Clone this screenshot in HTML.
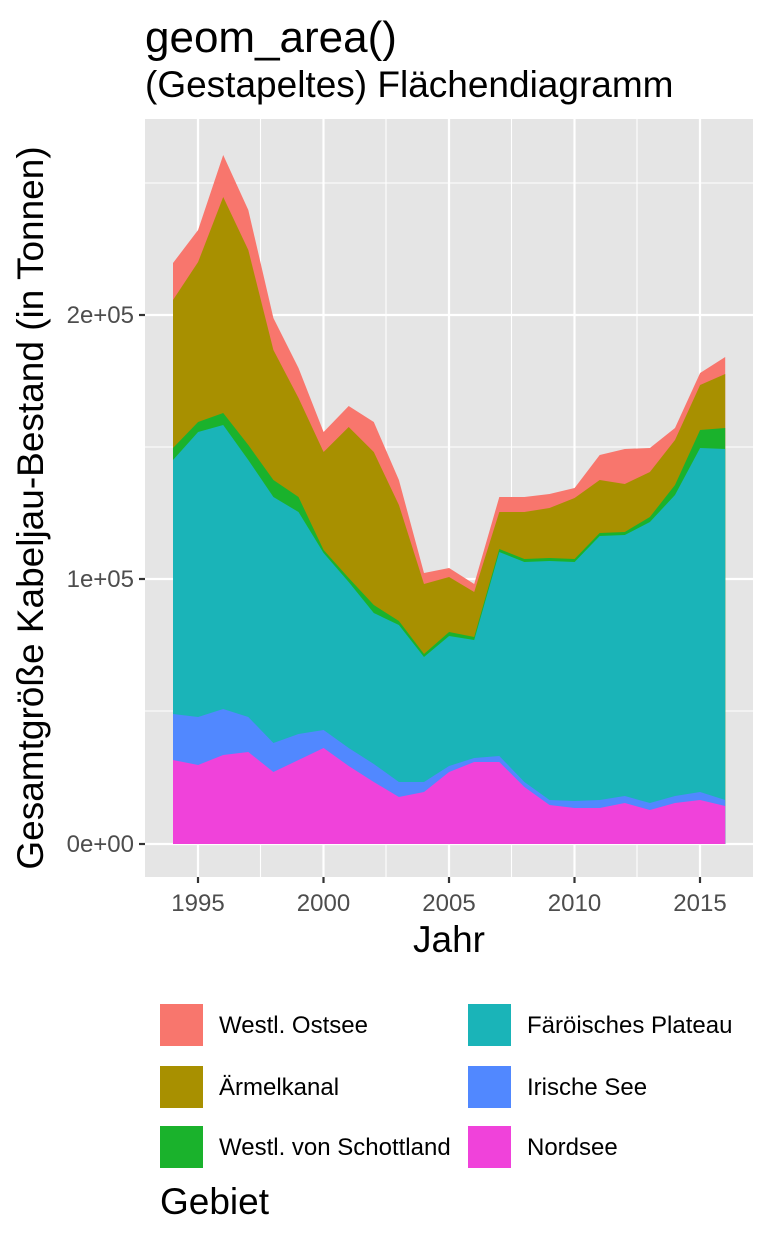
<!DOCTYPE html>
<html><head><meta charset="utf-8"><style>
body{margin:0;background:#fff;}
svg text{font-family:"Liberation Sans",Arial,sans-serif;}
</style></head><body>
<svg width="768" height="1248" viewBox="0 0 768 1248" xmlns="http://www.w3.org/2000/svg">
<rect width="768" height="1248" fill="#fff"/>
<text x="145" y="52" font-size="44" fill="#000">geom_area()</text>
<text x="145" y="97" font-size="37" fill="#000">(Gestapeltes) Flächendiagramm</text>
<rect x="145" y="119" width="608" height="758" fill="#e5e5e5"/>
<g stroke="#fff" stroke-width="1.1">
<line x1="145" x2="753" y1="183" y2="183"/><line x1="145" x2="753" y1="447" y2="447"/><line x1="145" x2="753" y1="711" y2="711"/>
<line x1="260.5" x2="260.5" y1="119" y2="877"/><line x1="386" x2="386" y1="119" y2="877"/><line x1="511.5" x2="511.5" y1="119" y2="877"/><line x1="637" x2="637" y1="119" y2="877"/>
</g>
<g stroke="#fff" stroke-width="2.2">
<line x1="145" x2="753" y1="315" y2="315"/><line x1="145" x2="753" y1="579" y2="579"/><line x1="145" x2="753" y1="844" y2="844"/>
<line x1="198" x2="198" y1="119" y2="877"/><line x1="323.5" x2="323.5" y1="119" y2="877"/><line x1="449" x2="449" y1="119" y2="877"/><line x1="574.5" x2="574.5" y1="119" y2="877"/><line x1="700" x2="700" y1="119" y2="877"/>
</g>
<polygon fill="#F8766D" points="173,263 198.1,230 223.2,155 248.3,210 273.4,318 298.5,368 323.6,432 348.7,406 373.8,422 398.9,480 424,573 449.1,568 474.2,584 499.3,497 524.4,497 549.5,494 574.6,488 599.7,455 624.8,449 649.9,448 675,428 700.1,373 725.2,357 725.2,844 173,844"/>
<polygon fill="#A89000" points="173,300 198.1,262 223.2,197 248.3,250 273.4,350 298.5,398 323.6,452 348.7,427 373.8,452 398.9,505 424,584 449.1,577 474.2,592 499.3,512 524.4,512 549.5,508 574.6,498 599.7,480 624.8,484 649.9,472 675,440 700.1,385 725.2,374 725.2,844 173,844"/>
<polygon fill="#1AB22C" points="173,448 198.1,422 223.2,413 248.3,445 273.4,480 298.5,497 323.6,550 348.7,578 373.8,605 398.9,621 424,654 449.1,632 474.2,637 499.3,549 524.4,559 549.5,558 574.6,559 599.7,533 624.8,532 649.9,517 675,485 700.1,430 725.2,428 725.2,844 173,844"/>
<polygon fill="#1AB4B8" points="173,460 198.1,432 223.2,425 248.3,460 273.4,497 298.5,512 323.6,553 348.7,582 373.8,613 398.9,625 424,657 449.1,636 474.2,640 499.3,552 524.4,562 549.5,561 574.6,562 599.7,536 624.8,535 649.9,522 675,495 700.1,448 725.2,449 725.2,844 173,844"/>
<polygon fill="#5188FF" points="173,714 198.1,717 223.2,709 248.3,717 273.4,743 298.5,734 323.6,730 348.7,748 373.8,764 398.9,782 424,782 449.1,766 474.2,758 499.3,756 524.4,782 549.5,800 574.6,801 599.7,800 624.8,796 649.9,803 675,796 700.1,792 725.2,800 725.2,844 173,844"/>
<polygon fill="#F042DA" points="173,760 198.1,765 223.2,755 248.3,752 273.4,772 298.5,760 323.6,748 348.7,766 373.8,782 398.9,797 424,792 449.1,772 474.2,762 499.3,762 524.4,787 549.5,805 574.6,808 599.7,808 624.8,803 649.9,810 675,803 700.1,800 725.2,806 725.2,844 173,844"/>
<g stroke="#333" stroke-width="2.2">
<line x1="139" x2="145" y1="315" y2="315"/><line x1="139" x2="145" y1="579" y2="579"/><line x1="139" x2="145" y1="844" y2="844"/>
<line x1="198" x2="198" y1="877" y2="883"/><line x1="323.5" x2="323.5" y1="877" y2="883"/><line x1="449" x2="449" y1="877" y2="883"/><line x1="574.5" x2="574.5" y1="877" y2="883"/><line x1="700" x2="700" y1="877" y2="883"/>
</g>
<g font-size="24" fill="#4d4d4d">
<text x="134" y="323" text-anchor="end">2e+05</text>
<text x="134" y="587" text-anchor="end">1e+05</text>
<text x="134" y="852" text-anchor="end">0e+00</text>
<g text-anchor="middle">
<text x="198" y="911">1995</text><text x="323.5" y="911">2000</text><text x="449" y="911">2005</text><text x="574.5" y="911">2010</text><text x="700" y="911">2015</text>
</g></g>
<text x="449" y="952" font-size="37" text-anchor="middle">Jahr</text>
<text transform="translate(43,508) rotate(-90)" font-size="37" text-anchor="middle">Gesamtgröße Kabeljau-Bestand (in Tonnen)</text>
<g font-size="24" fill="#000">
<rect x="160" y="1004" width="43" height="42" fill="#F8766D"/><text x="219" y="1033">Westl. Ostsee</text>
<rect x="160" y="1066" width="43" height="42" fill="#A89000"/><text x="219" y="1095">Ärmelkanal</text>
<rect x="160" y="1126" width="43" height="42" fill="#1AB22C"/><text x="219" y="1155">Westl. von Schottland</text>
<rect x="468" y="1004" width="43" height="42" fill="#1AB4B8"/><text x="527" y="1033">Färöisches Plateau</text>
<rect x="468" y="1066" width="43" height="42" fill="#5188FF"/><text x="527" y="1095">Irische See</text>
<rect x="468" y="1126" width="43" height="42" fill="#F042DA"/><text x="527" y="1155">Nordsee</text>
</g>
<text x="160" y="1214" font-size="37">Gebiet</text>
</svg>
</body></html>
